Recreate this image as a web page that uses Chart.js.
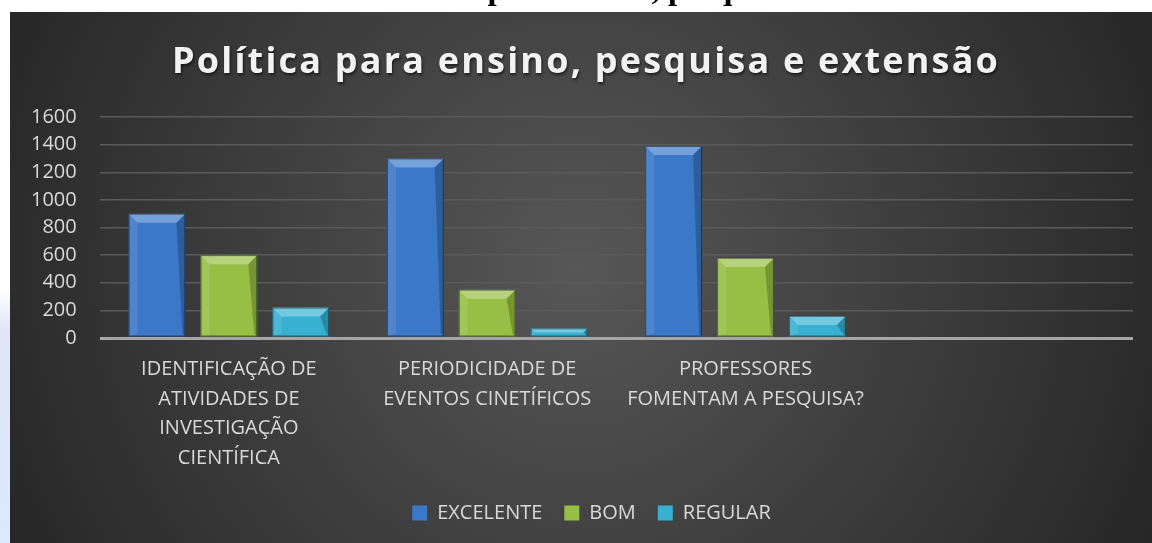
<!DOCTYPE html>
<html>
<head>
<meta charset="utf-8">
<title>Política para ensino, pesquisa e extensão</title>
<script src="https://cdn.jsdelivr.net/npm/chart.js@4/dist/chart.umd.min.js"></script>
<style>
  html, body { margin: 0; padding: 0; background: #fff; }
  #wrap { width: 1152px; height: 543px; position: relative; }
</style>
</head>
<body>
<div id="wrap"><canvas id="myChart" width="1152" height="543"></canvas></div>
<script>
var caption = 'Gráfico 6: Política para ensino, pesquisa e extensão';
var chartTitle = 'Política para ensino, pesquisa e extensão';

var categories = [
  ['IDENTIFICAÇÃO DE', 'ATIVIDADES DE', 'INVESTIGAÇÃO', 'CIENTÍFICA'],
  ['PERIODICIDADE DE', 'EVENTOS CINETÍFICOS'],
  ['PROFESSORES', 'FOMENTAM A PESQUISA?'],
  ''
];
var excelente = [900, 1300, 1390, null];
var bom = [600, 350, 580, null];
var regular = [220, 70, 160, null];
var yTicks = [0, 200, 400, 600, 800, 1000, 1200, 1400, 1600];

// page behind the chart: caption of the document, side strip, dark panel, title
var panelBg = {
  id: 'panelBg',
  afterLayout: function(chart) {
    // legend sits a bit right of the canvas centre in the original
    chart.legend.left += 42;
  },
  beforeDraw: function(chart) {
    var c = chart.ctx, w = chart.width, h = chart.height;
    c.save();
    c.fillStyle = '#ffffff';
    c.fillRect(0, 0, w, h);

    c.fillStyle = '#000000';
    c.font = 'bold 33px "Liberation Serif"';
    c.textAlign = 'center';
    c.textBaseline = 'alphabetic';
    c.fillText(caption, 581, -1);

    var side = c.createLinearGradient(0, 290, 0, h);
    side.addColorStop(0, '#ffffff');
    side.addColorStop(0.15, '#e2e5f8');
    side.addColorStop(1, '#dbeaff');
    c.fillStyle = side;
    c.fillRect(0, 290, 10, h - 290);

    var g = c.createRadialGradient(578, 270, 0, 578, 270, 640);
    g.addColorStop(0, '#575757');
    g.addColorStop(1, '#262626');
    c.fillStyle = g;
    c.fillRect(10, 12, w - 10, h - 12);

    c.fillStyle = '#f2f2f2';
    c.font = 'bold 36px "Open Sans"';
    c.letterSpacing = '2.2px';
    c.shadowColor = 'rgba(0,0,0,0.6)';
    c.shadowOffsetX = 1;
    c.shadowOffsetY = 2;
    c.shadowBlur = 3;
    c.fillText(chartTitle, 586, 73);
    c.restore();
  }
};

// bevel look on every bar, from the bar elements themselves
var bevel = {
  id: 'bevel',
  afterDatasetsDraw: function(chart) {
    var c = chart.ctx;
    chart.data.datasets.forEach(function(ds, i) {
      chart.getDatasetMeta(i).data.forEach(function(bar, j) {
        if (ds.data[j] == null) return;
        var p = bar.getProps(['x', 'y', 'base', 'width'], true);
        var l = p.x - p.width / 2, r = p.x + p.width / 2, t = p.y, b = p.base;
        var d = Math.min(9, (b - t) / 2);
        c.save();
        c.fillStyle = 'rgba(255,255,255,0.30)';
        c.beginPath();
        c.moveTo(l, t); c.lineTo(r, t); c.lineTo(r - d, t + d); c.lineTo(l + d, t + d);
        c.closePath(); c.fill();
        c.fillStyle = 'rgba(255,255,255,0.10)';
        c.beginPath();
        c.moveTo(l, t); c.lineTo(l + d, t + d); c.lineTo(l + d, b - 3); c.lineTo(l, b);
        c.closePath(); c.fill();
        c.fillStyle = 'rgba(0,0,0,0.22)';
        c.beginPath();
        c.moveTo(r, t); c.lineTo(r, b); c.lineTo(r - 3, b - 3); c.lineTo(r - d, t + d);
        c.closePath(); c.fill();
        c.strokeStyle = 'rgba(0,0,0,0.45)';
        c.lineWidth = 1;
        c.strokeRect(l + 0.5, t + 0.5, p.width - 1, b - t - 1);
        c.restore();
      });
    });
  }
};

var chart1 = document.getElementById('myChart').getContext('2d');

new Chart(chart1, {
  type: 'bar',
  plugins: [panelBg, bevel],
  data: {
    labels: categories,
    datasets: [{
      label: 'EXCELENTE',
      backgroundColor: '#3b78c8',
      borderColor: '#2c5e9e',
      data: excelente
    },
    {
      label: 'BOM',
      backgroundColor: '#97bf45',
      borderColor: '#6f8f2f',
      data: bom
    },
    {
      label: 'REGULAR',
      backgroundColor: '#38b0d2',
      borderColor: '#2a8aa6',
      data: regular
    }]
  },
  options: {
    responsive: false,
    animation: false,
    categoryPercentage: 0.835,
    barPercentage: 0.79,
    layout: { padding: { top: 117, left: 8, right: 19, bottom: 10 } },
    plugins: {
      title: { display: false },
      tooltip: { enabled: false },
      legend: {
        position: 'bottom',
        labels: {
          boxWidth: 15,
          boxHeight: 15,
          padding: 22,
          color: '#d9d9d9',
          font: { family: '"Open Sans"', size: 20 }
        }
      }
    },
    scales: {
      x: {
        grid: { display: false },
        border: { display: false },
        afterFit: function(scale) { scale.height = 143; },
        ticks: {
          color: '#d9d9d9',
          padding: 9,
          maxRotation: 0,
          autoSkip: false,
          font: { family: '"Open Sans"', size: 20, lineHeight: 1.47 }
        }
      },
      y: {
        min: 0,
        max: 1600,
        afterBuildTicks: function(scale) {
          scale.ticks = yTicks.map(function(v) { return { value: v }; });
        },
        border: { display: false },
        grid: {
          drawTicks: false,
          color: function(ctx) { return ctx.tick && ctx.tick.value === 0 ? '#a6a6a6' : '#5a5a5a'; },
          lineWidth: function(ctx) { return ctx.tick && ctx.tick.value === 0 ? 3 : 1.5; }
        },
        ticks: {
          color: '#d9d9d9',
          padding: 23,
          font: { family: '"Open Sans"', size: 20 },
          callback: function(v) { return String(v); }
        }
      }
    }
  }
});
</script>
</body>
</html>
